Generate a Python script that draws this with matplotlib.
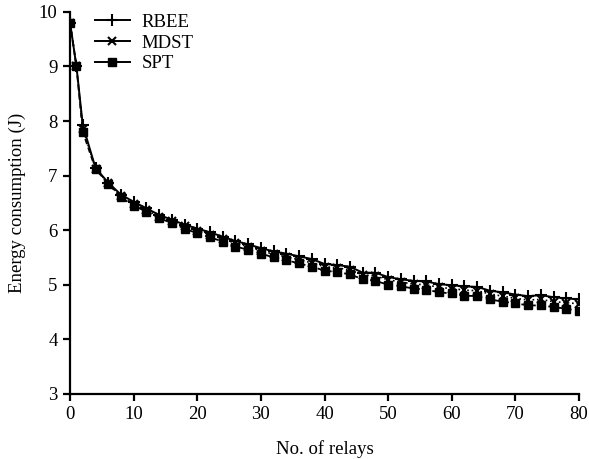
import matplotlib
matplotlib.use("Agg")
import matplotlib.pyplot as plt
from matplotlib.lines import Line2D

plt.rcParams['font.family'] = ['Liberation Serif', 'DejaVu Serif']

relays = [0, 1, 2] + list(range(4, 81, 2))

rbee = [9.80, 9.00, 7.92, 7.14, 6.87, 6.65, 6.52, 6.40, 6.28, 6.19, 6.10,
        6.03, 5.96, 5.88, 5.80, 5.74, 5.67, 5.61, 5.57, 5.52, 5.47, 5.38,
        5.36, 5.33, 5.22, 5.22, 5.14, 5.10, 5.07, 5.06, 5.01, 4.99, 4.97,
        4.96, 4.89, 4.86, 4.82, 4.79, 4.81, 4.77, 4.75, 4.73]
mdst = [9.80, 9.00, 7.86, 7.13, 6.86, 6.62, 6.48, 6.37, 6.25, 6.16, 6.07,
        5.99, 5.92, 5.84, 5.76, 5.70, 5.62, 5.56, 5.51, 5.46, 5.40, 5.33,
        5.31, 5.27, 5.18, 5.16, 5.09, 5.05, 5.01, 5.00, 4.95, 4.93, 4.90,
        4.89, 4.83, 4.79, 4.75, 4.72, 4.73, 4.69, 4.67, 4.65]
spt = [9.80, 9.00, 7.80, 7.12, 6.85, 6.60, 6.45, 6.34, 6.22, 6.13, 6.03,
       5.94, 5.87, 5.79, 5.70, 5.64, 5.57, 5.50, 5.45, 5.39, 5.33, 5.26,
       5.23, 5.19, 5.10, 5.07, 5.00, 4.97, 4.93, 4.91, 4.86, 4.84, 4.80,
       4.79, 4.73, 4.69, 4.66, 4.62, 4.62, 4.59, 4.56, 4.52]

names = ['RBEE', 'MDST', 'SPT']
fs = 13.5

fig = plt.figure(figsize=(5.89, 4.59), dpi=100)
ax = fig.add_axes([0.119, 0.142, 0.864, 0.832])

ax.plot(relays, spt, color='black', lw=1.3, ls=(0, (3, 2)), marker='s', ms=6, zorder=2)
ax.plot(relays, mdst, color='black', lw=1.2, ls=':', marker='x', ms=6, mew=1.5, zorder=3)
ax.plot(relays, rbee, color='black', lw=1.4, ls='-', marker='+', ms=8, mew=1.5, zorder=4)

ax.set_xlim(0, 80)
ax.set_ylim(3, 10)
ax.set_xticks(range(0, 81, 10))
ax.set_yticks(range(3, 11))
for s in ['top', 'right']:
    ax.spines[s].set_visible(False)
for s in ['left', 'bottom']:
    ax.spines[s].set_linewidth(1.6)
ax.tick_params(direction='out', length=5, width=1.6, labelsize=fs, pad=4)

ax.set_xlabel('No. of relays', fontsize=fs, labelpad=12)
ax.set_ylabel('Energy consumption (J)', fontsize=fs, labelpad=9)

handles = [Line2D([], [], color='black', lw=1.4, marker='+', ms=8, mew=1.5),
           Line2D([], [], color='black', lw=1.4, marker='x', ms=6, mew=1.5),
           Line2D([], [], color='black', lw=1.4, marker='s', ms=6)]
ax.legend(handles, names, loc='upper left', bbox_to_anchor=(0.015, 1.04),
          frameon=False, fontsize=fs, handlelength=1.9, handletextpad=0.6,
          labelspacing=0.2)

fig.savefig('out.png', dpi=100)
